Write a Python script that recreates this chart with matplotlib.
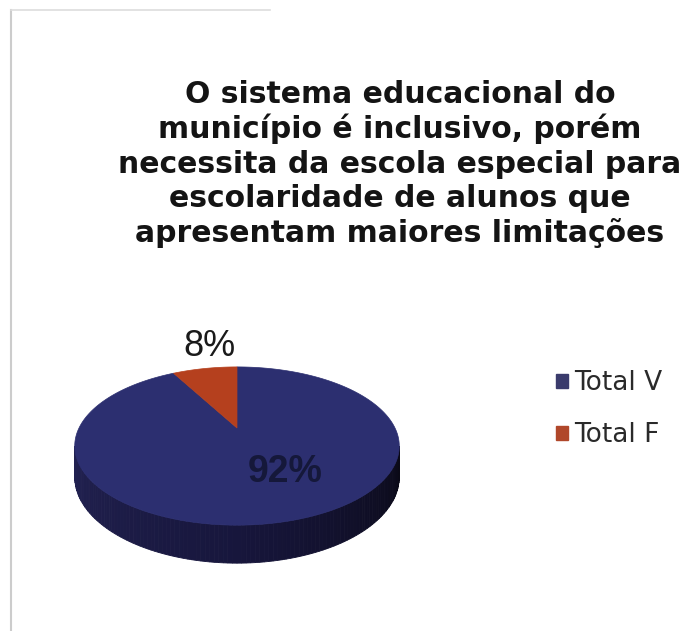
import numpy as np
import matplotlib
matplotlib.use("Agg")
import matplotlib.pyplot as plt
from matplotlib.patches import Polygon, Patch

# Chart content
title_lines = [
    "O sistema educacional do",
    "município é inclusivo, porém",
    "necessita da escola especial para",
    "escolaridade de alunos que",
    "apresentam maiores limitações",
]
categories = ["Total V", "Total F"]
values = [92, 8]
top_colors = ["#2c2f70", "#b5401e"]
legend_colors = ["#3a3b6c", "#b0472a"]
label_colors = ["#15183a", "#1a1a1a"]

# Figure in pixel coordinates
W, H = 696, 631
fig = plt.figure(figsize=(W / 100, H / 100), dpi=100)
fig.patch.set_facecolor("white")
ax = fig.add_axes([0, 0, 1, 1])
ax.set_xlim(0, W)
ax.set_ylim(H, 0)
ax.axis("off")

# Pie geometry (perspective-projected disc)
cx, cy = 237, 428
rx, ry = 158, 75
persp = 0.228
thick = 38


def proj(theta_deg, r=1.0, drop=0.0):
    t = np.radians(theta_deg)
    u, v = r * np.cos(t), r * np.sin(t)
    d = 1 + persp * v
    x = cx + rx * u / d
    y = cy - ry * v / d + drop * (1 - persp) / d
    return x, y


# Side of the disc (visible front arc), shaded left to right
a = np.degrees(np.arcsin(persp))
th_l, th_r = 180 + a, 360 - a
n_strips = 120
edges = np.linspace(th_l, th_r, n_strips + 1)
c_left = np.array([0x22, 0x22, 0x52]) / 255
c_mid = np.array([0x17, 0x16, 0x3c]) / 255
c_right = np.array([0x0a, 0x09, 0x16]) / 255
for i in range(n_strips):
    t0, t1 = edges[i], edges[i + 1]
    f = i / (n_strips - 1)
    if f < 0.5:
        col = c_left + (c_mid - c_left) * (f / 0.5)
    else:
        col = c_mid + (c_right - c_mid) * ((f - 0.5) / 0.5)
    ts = np.linspace(t0, t1, 4)
    xt, yt = proj(ts)
    xb, yb = proj(ts[::-1], drop=thick)
    ax.add_patch(Polygon(np.column_stack([np.r_[xt, xb], np.r_[yt, yb]]),
                         closed=True, facecolor=col, edgecolor=col, lw=0.6))

# Top face wedges, clockwise from 12 o'clock
total = float(sum(values))
start = 90.0
for val, col in zip(values, top_colors):
    sweep = 360.0 * val / total
    ts = np.linspace(start, start - sweep, max(int(sweep), 2) + 1)
    xs, ys = proj(ts)
    ax.add_patch(Polygon(np.column_stack([np.r_[cx, xs], np.r_[cy, ys]]),
                         closed=True, facecolor=col, edgecolor=col, lw=0.5))
    start -= sweep

# Percentage labels
ax.text(285, 472, f"{values[0]}%", fontsize=27, fontweight="bold",
        color=label_colors[0], ha="center", va="center",
        family=["Liberation Sans", "DejaVu Sans"])
ax.text(209, 347, f"{values[1]}%", fontsize=26,
        color=label_colors[1], ha="center", va="center",
        family=["Liberation Sans", "DejaVu Sans"])

# Title
for i, line in enumerate(title_lines):
    ax.text(400, 103 + 34.8 * i, line, fontsize=21.5, fontweight="bold",
            color="#141414", ha="center", va="baseline",
            family=["DejaVu Sans"])

# Legend
handles = [Patch(facecolor=c, edgecolor=c) for c in legend_colors]
leg = ax.legend(handles, categories, loc="upper left",
                bbox_to_anchor=(556 / W, 1 - 370 / H), frameon=False,
                borderpad=0, borderaxespad=0,
                handlelength=0.45, handleheight=0.45,
                handletextpad=0.25, labelspacing=1.0,
                prop={"family": "DejaVu Sans", "size": 19})
for t in leg.get_texts():
    t.set_color("#2a2a2a")

# Faint frame lines
ax.plot([11, 11], [10, H], color="#cccccc", lw=1.5)
ax.plot([11, 270], [10, 10], color="#dddddd", lw=1.2)

fig.savefig("out.png", dpi=100, facecolor="white")
